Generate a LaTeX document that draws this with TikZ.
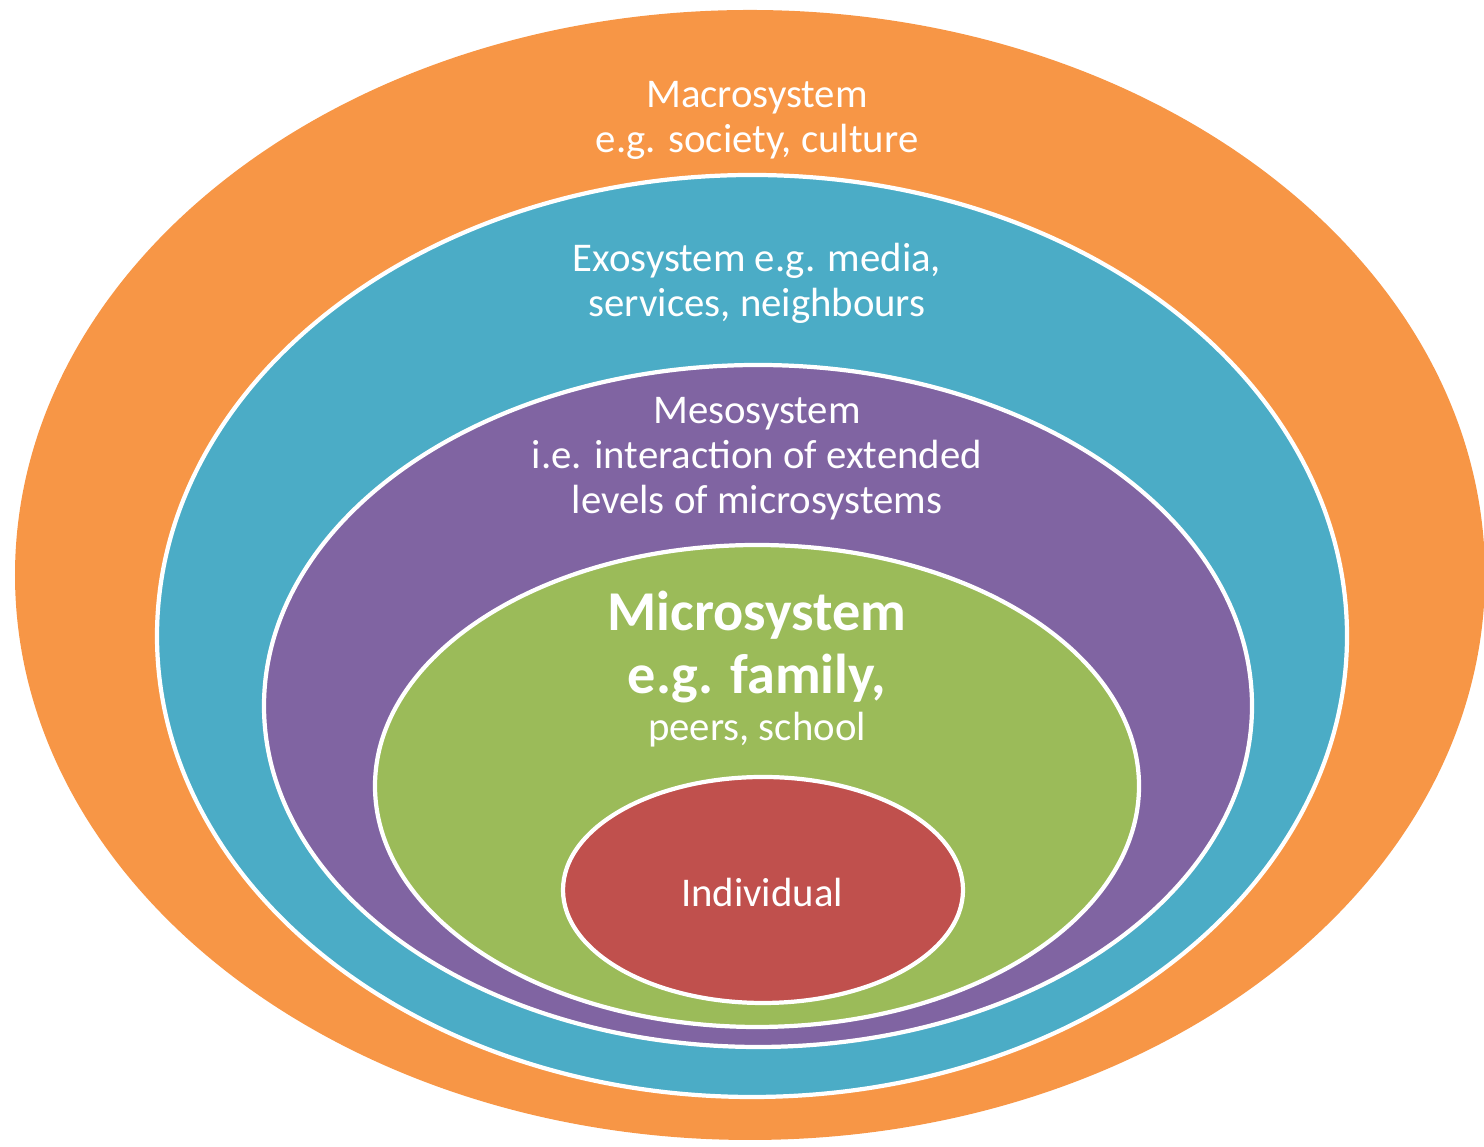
\documentclass[tikz,border=0pt]{standalone}
\usepackage{fontspec}
\setmainfont{Carlito}

\definecolor{macroorange}{HTML}{F79646}
\definecolor{exoblue}{HTML}{4BACC6}
\definecolor{mesopurple}{HTML}{8064A2}
\definecolor{microgreen}{HTML}{9BBB59}
\definecolor{selfred}{HTML}{C0504D}

\begin{document}
\begin{tikzpicture}[
  ring/.style={line width=1.2pt, draw=white},
  txt/.style={text=white, align=center, font=\fontsize{11.6}{12.8}\selectfont}
]
  \useasboundingbox (0,0) rectangle (14.84,11.47);

  % Nested systems, outermost first
  \fill[macroorange] (7.50,5.72) ellipse (7.35 and 5.65);
  \filldraw[ring, fill=exoblue] (7.52,5.11) ellipse (5.95 and 4.61);
  \filldraw[ring, fill=mesopurple] (7.58,4.41) ellipse (4.94 and 3.41);
  \filldraw[ring, fill=microgreen] (7.57,3.61) ellipse (3.82 and 2.41);
  \filldraw[ring, fill=selfred] (7.63,2.57) ellipse (2.00 and 1.13);

  % Labels
  \node[txt] (macro) at (7.57,10.27) {Macrosystem\\e.g. society, culture};
  \node[txt] (exo) at (7.57,8.64) {Exosystem e.g. media,\\services, neighbours};
  \node[txt] (meso) at (7.57,6.88) {Mesosystem\\i.e. interaction of extended\\levels of microsystems};
  \node[txt, font=\bfseries\fontsize{16}{17.9}\selectfont] (micro) at (7.57,5.00) {Microsystem\\e.g. family,};
  \node[txt] (microsub) at (7.57,4.17) {peers, school};
  \node[txt] (self) at (7.62,2.54) {Individual};
\end{tikzpicture}
\end{document}
